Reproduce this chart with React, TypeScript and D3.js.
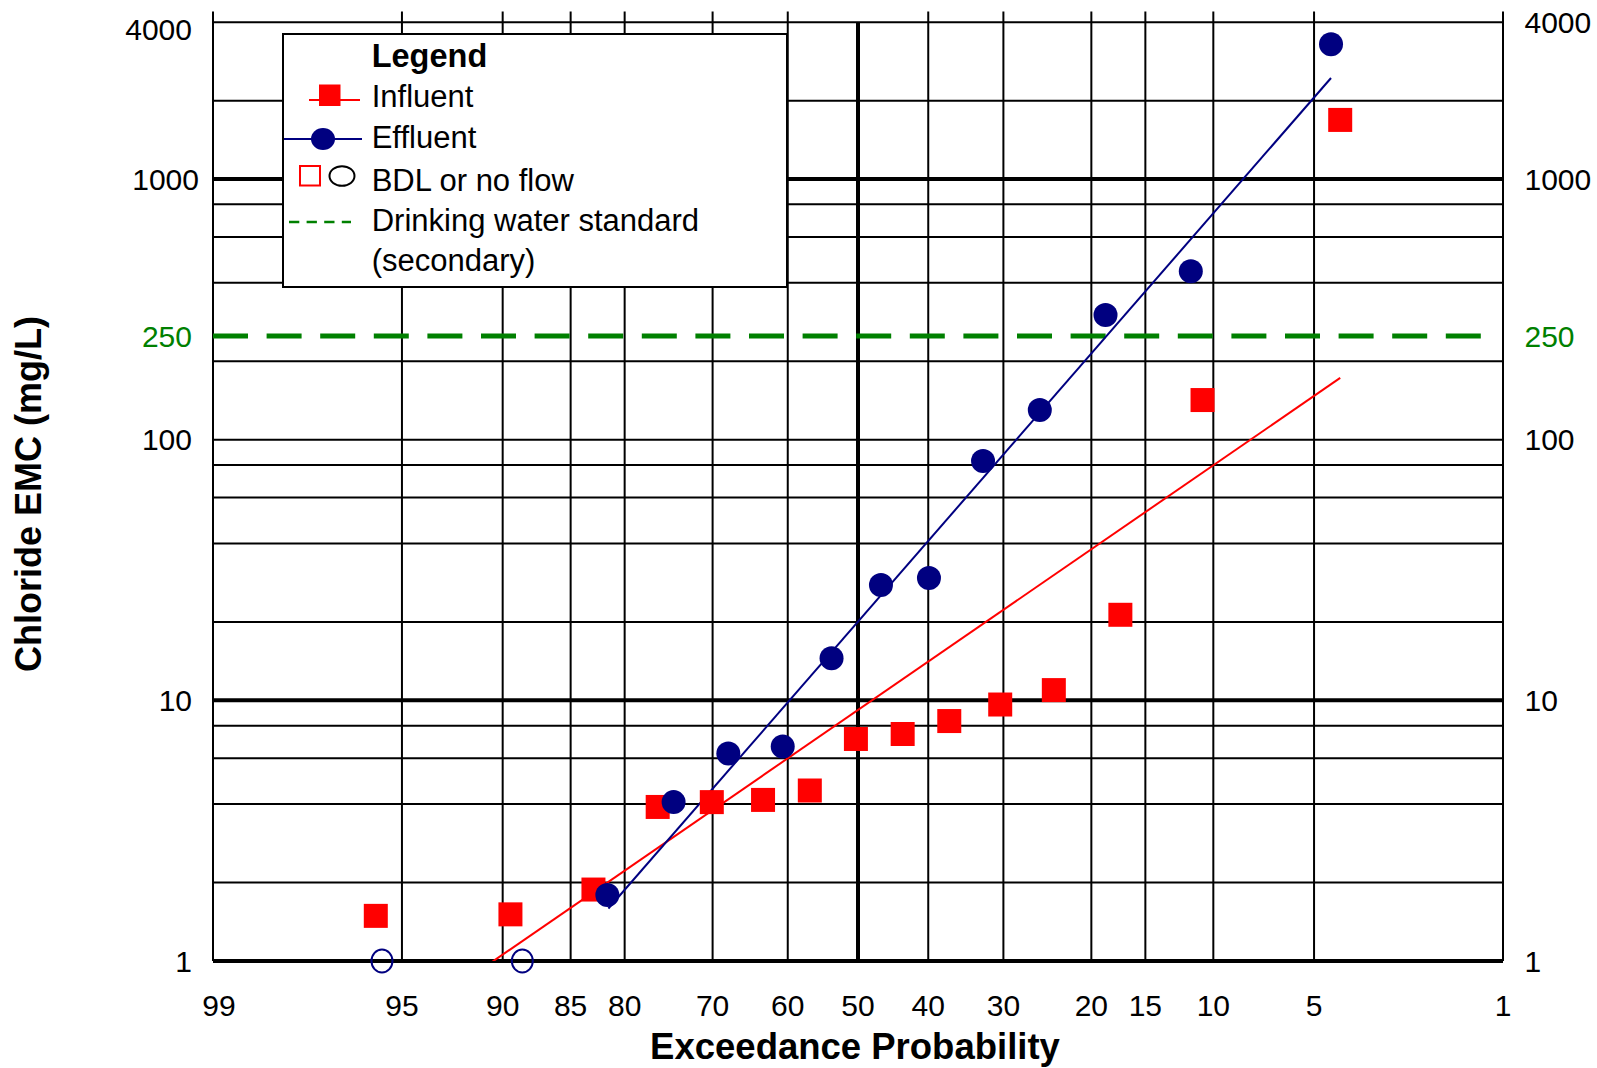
import React from "react";
import * as d3 from "d3";

// ---------- data ----------
const yTickLabels = [4000, 1000, 250, 100, 10, 1];
const yGridValues = [1, 2, 4, 6, 8, 10, 20, 40, 60, 80, 100, 200, 400, 600, 800, 1000, 2000, 4000];
const yMajorValues = [1, 10, 1000];
const xTickLabels = [99, 95, 90, 85, 80, 70, 60, 50, 40, 30, 20, 15, 10, 5, 1];
const xMajorValues = [50];

const influentP = [95.9, 89.5, 83.0, 76.5, 70.1, 63.4, 56.9, 50.3, 43.6, 37.1, 30.4, 24.0, 17.2, 10.7, 4.1];
const influentV = [1.49, 1.51, 1.88, 3.9, 4.07, 4.15, 4.51, 7.11, 7.43, 8.33, 9.64, 10.95, 21.3, 142, 1687];

const effluentP = [81.7, 74.7, 68.0, 60.7, 53.8, 46.7, 39.9, 32.6, 25.6, 18.6, 11.5, 4.4];
const effluentV = [1.79, 4.07, 6.25, 6.65, 14.5, 27.7, 29.5, 82.8, 130, 301, 443, 3292];

const effluentBdlP = [95.7, 88.7];
const effluentBdlV = [1, 1];

const influentFitP = [95.9, 4.1];
const influentFitV = [0.489, 172.7];
const effluentFitP = [81.6, 4.4];
const effluentFitV = [1.59, 2443];

const standardValue = 250;

// ---------- helpers ----------
function invNorm(p: number): number {
  const a = [-3.969683028665376e1, 2.209460984245205e2, -2.759285104469687e2, 1.38357751867269e2, -3.066479806614716e1, 2.506628277459239];
  const b = [-5.447609879822406e1, 1.615858368580409e2, -1.556989798598866e2, 6.680131188771972e1, -1.328068155288572e1];
  const c = [-7.784894002430293e-3, -3.223964580411365e-1, -2.400758277161838, -2.549732539343734, 4.374664141464968, 2.938163982698783];
  const d = [7.784695709041462e-3, 3.224671290700398e-1, 2.445134137142996, 3.754408661907416];
  const pl = 0.02425;
  if (p < pl) {
    const q = Math.sqrt(-2 * Math.log(p));
    return (((((c[0] * q + c[1]) * q + c[2]) * q + c[3]) * q + c[4]) * q + c[5]) / ((((d[0] * q + d[1]) * q + d[2]) * q + d[3]) * q + 1);
  }
  if (p <= 1 - pl) {
    const q = p - 0.5;
    const r = q * q;
    return ((((((a[0] * r + a[1]) * r + a[2]) * r + a[3]) * r + a[4]) * r + a[5]) * q) / (((((b[0] * r + b[1]) * r + b[2]) * r + b[3]) * r + b[4]) * r + 1);
  }
  const q = Math.sqrt(-2 * Math.log(1 - p));
  return -(((((c[0] * q + c[1]) * q + c[2]) * q + c[3]) * q + c[4]) * q + c[5]) / ((((d[0] * q + d[1]) * q + d[2]) * q + d[3]) * q + 1);
}

const W = 1597;
const H = 1068;
const L = 213;
const R = 1503;
const T = 22.2;
const B = 961;
const FONT = "'Liberation Sans', Arial, Helvetica, sans-serif";

const zScale = d3.scaleLinear().domain([invNorm(0.01), invNorm(0.99)]).range([L, R]);
const x = (p: number) => zScale(invNorm(1 - p / 100));
const y = d3.scaleLog().domain([1, 4000]).range([B, T]);

const NAVY = "#000080";
const RED = "#FF0000";
const GREEN = "#008000";

export default function App() {
  const fitLine = d3
    .line<[number, number]>()
    .x((d) => x(d[0]))
    .y((d) => y(d[1]));
  const infFit = influentFitP.map((p, i) => [p, influentFitV[i]] as [number, number]);
  const effFit = effluentFitP.map((p, i) => [p, effluentFitV[i]] as [number, number]);

  return (
    <svg
      width={W}
      height={H}
      viewBox={`0 0 ${W} ${H}`}
      style={{ position: "absolute", left: 0, top: 0, background: "#fff" }}
      fontFamily={FONT}
    >
      <rect x={0} y={0} width={W} height={H} fill="#fff" />
      <defs>
        <clipPath id="plotClip">
          <rect x={L} y={T} width={R - L} height={B - T} />
        </clipPath>
      </defs>

      {/* horizontal grid */}
      {yGridValues.map((v) => (
        <line
          key={"h" + v}
          x1={L}
          x2={R}
          y1={y(v)}
          y2={y(v)}
          stroke="#000"
          strokeWidth={yMajorValues.includes(v) ? 4 : 2}
        />
      ))}
      {/* vertical grid */}
      {xTickLabels.map((p) => (
        <line
          key={"v" + p}
          x1={x(p)}
          x2={x(p)}
          y1={xMajorValues.includes(p) ? T : 11.5}
          y2={B}
          stroke="#000"
          strokeWidth={xMajorValues.includes(p) ? 4 : 2}
        />
      ))}

      {/* drinking water standard */}
      <line
        x1={L}
        x2={1485}
        y1={y(standardValue)}
        y2={y(standardValue)}
        stroke={GREEN}
        strokeWidth={5}
        strokeDasharray="35 18.6"
      />

      {/* fit lines */}
      <g clipPath="url(#plotClip)">
        <path d={fitLine(infFit) || ""} fill="none" stroke={RED} strokeWidth={2} />
        <path d={fitLine(effFit) || ""} fill="none" stroke={NAVY} strokeWidth={2} />
      </g>

      {/* influent squares */}
      {influentP.map((p, i) => (
        <rect key={"is" + i} x={x(p) - 12} y={y(influentV[i]) - 12} width={24} height={24} fill={RED} />
      ))}
      {/* effluent dots */}
      {effluentP.map((p, i) => (
        <circle key={"ec" + i} cx={x(p)} cy={y(effluentV[i])} r={12} fill={NAVY} />
      ))}
      {effluentBdlP.map((p, i) => (
        <ellipse key={"eb" + i} cx={x(p)} cy={y(effluentBdlV[i])} rx={10.5} ry={11.5} fill="none" stroke={NAVY} strokeWidth={2} />
      ))}

      {/* left y tick labels */}
      {yTickLabels.map((v) => (
        <text
          key={"yl" + v}
          x={v === 1000 ? 199 : 192}
          y={Math.max(y(v), 29)}
          dy="0.35em"
          textAnchor="end"
          fontSize={30}
          fill={v === standardValue ? GREEN : "#000"}
        >
          {v}
        </text>
      ))}
      {/* right y tick labels */}
      {yTickLabels.map((v) => (
        <text
          key={"yr" + v}
          x={1524.5}
          y={y(v)}
          dy="0.35em"
          textAnchor="start"
          fontSize={30}
          fill={v === standardValue ? GREEN : "#000"}
        >
          {v}
        </text>
      ))}
      {/* x tick labels */}
      {xTickLabels.map((p) => (
        <text key={"xl" + p} x={Math.max(x(p), 219)} y={1016} textAnchor="middle" fontSize={30} fill="#000">
          {p}
        </text>
      ))}

      {/* axis titles */}
      <text x={855} y={1059} textAnchor="middle" fontSize={36.5} fontWeight="bold" fill="#000">
        Exceedance Probability
      </text>
      <text
        transform="translate(41,494) rotate(-90)"
        textAnchor="middle"
        fontSize={36}
        fontWeight="bold"
        fill="#000"
      >
        Chloride EMC (mg/L)
      </text>

      {/* legend */}
      <g>
        <rect x={283} y={34} width={504} height={253} fill="#fff" stroke="#000" strokeWidth={2} />
        <text x={371.7} y={66.7} fontSize={32.5} fontWeight="bold">Legend</text>

        <line x1={309} x2={360} y1={100} y2={100} stroke={RED} strokeWidth={2} />
        <rect x={319} y={84.5} width={21.5} height={21.5} fill={RED} />
        <text x={371.7} y={107.3} fontSize={31}>Influent</text>

        <line x1={284} x2={362} y1={139} y2={139} stroke={NAVY} strokeWidth={2} />
        <ellipse cx={323} cy={139} rx={12} ry={11} fill={NAVY} />
        <text x={371.7} y={148.3} fontSize={31}>Effluent</text>

        <rect x={300} y={166} width={20} height={19.5} fill="none" stroke={RED} strokeWidth={2} />
        <ellipse cx={342} cy={176} rx={12.5} ry={9.8} fill="none" stroke="#000" strokeWidth={2} />
        <text x={371.7} y={190.7} fontSize={31}>BDL or no flow</text>

        <line x1={289} x2={351} y1={222} y2={222} stroke={GREEN} strokeWidth={2.5} strokeDasharray="10.3 7.3" />
        <text x={371.7} y={230.7} fontSize={31}>Drinking water standard</text>
        <text x={371.7} y={270.5} fontSize={31}>(secondary)</text>
      </g>
    </svg>
  );
}
